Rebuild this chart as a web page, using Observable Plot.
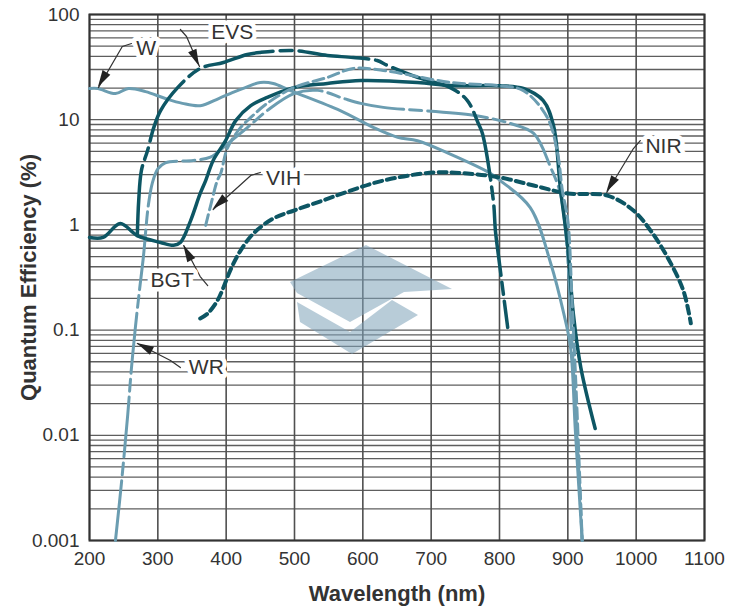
<!DOCTYPE html>
<html><head><meta charset="utf-8">
<script src="https://cdn.jsdelivr.net/npm/d3@7"></script>
<script src="https://cdn.jsdelivr.net/npm/@observablehq/plot@0.6"></script>
<style>
body{margin:0;background:#fff;}
#wrap{position:relative;width:733px;height:612px;}
</style></head><body><div id="wrap"></div>
<script>
// ---- axes ----
const xTicks = [200,300,400,500,600,700,800,900,1000,1100];
const yTicks = [0.001,0.01,0.1,1,10,100];
const yTickLabels = ["0.001","0.01","0.1","1","10","100"];

// ---- series (wavelength nm, quantum efficiency %) ----
const W_nm  = [200,212,238,257,282,311,336,362,389,409,428,450,469,494,567,616,651,680,728,787,801,845,875,894,904,911,921];
const W_qe  = [19.8,19.8,17.7,19.8,18.5,15.9,14.3,13.6,15.9,18.1,20.2,22.6,22.1,18.9,12.2,8.4,6.8,6.3,4.7,3.08,2.64,1.46,0.43,0.144,0.068,0.011,0.001];

const WR_nm = [238,247,256,261,267,273,279,286,292,300,311,352,377,402,431,460,499,534,572,597,630,762,816,850,875,889,898,905,913,921];
const WR_qe = [0.001,0.00365,0.0158,0.0407,0.104,0.235,0.506,1.52,2.51,3.41,3.89,4.1,4.4,5.9,8.4,12.2,17.7,19,15.9,14.3,13.1,11,9.2,7.4,3.5,2.0,0.71,0.1,0.011,0.001];

const BGT_nm = [200,220,245,270,304,323,333,348,362,370,381,399,414,436,460,499,548,597,680,728,801,835,864,879,889,900,908,919,940];
const BGT_qe = [0.76,0.76,1.03,0.79,0.68,0.64,0.68,1.10,1.99,2.64,4.1,6.3,9.8,13.6,16.3,20.2,22.1,23.6,22.6,21.1,21,19.8,15.2,8.8,2.27,0.61,0.144,0.044,0.0116];

const EVS_nm = [270,272,276,285,294,304,329,362,396,431,450,499,548,586,621,636,680,728,753,769,775,791,794,799,812];
const EVS_qe = [0.79,1.7,3.3,5.1,8.4,12.2,20.2,30.7,35,41.7,43.6,45.5,40.8,39,36.5,32.8,25.2,20.2,15.2,9.2,7.4,1.7,0.885,0.48,0.106];

const VIH_nm = [370,377,387,392,402,421,436,460,499,548,586,630,728,801,835,870,885,892,900,906,913,921];
const VIH_qe = [0.99,1.5,2.64,3.08,5.4,8.4,10.5,14.3,20.2,25.2,30.7,29.4,22.6,21,18.9,10.5,4.8,2.12,1.1,0.2,0.02,0.001];

const NIR_nm = [362,373,387,396,406,421,440,469,499,542,582,630,703,753,801,850,900,958,996,1021,1046,1069,1080];
const NIR_qe = [0.129,0.144,0.19,0.254,0.37,0.57,0.83,1.15,1.37,1.71,2.12,2.64,3.15,3.08,2.82,2.37,1.99,1.90,1.37,0.885,0.49,0.238,0.116];

// ---- curve labels (position in data space) and leader lines ----
const labelNames = ["W","EVS","VIH","BGT","WR","NIR"];
const labelNm    = [283,409,484,321,371,1040];
const labelQe    = [47.5,67.4,2.76,0.296,0.044,5.56];
const leaderNm = [[261.5,248,213],[333,342,361],[450,436,381],[373,362,338],[333,318.5,270],[1006,996,957]];
const leaderQe = [[53,49.6,20.2],[72,61.8,32],[3.15,2.95,1.40],[0.265,0.323,0.637],[0.044,0.0514,0.0746],[6.34,5.32,2.03]];

// ---- build tables ----
const rows = (nm, qe) => nm.map((x, i) => ({nm: x, qe: qe[i]}));
const labels = labelNames.map((t, i) => ({t, nm: labelNm[i], qe: labelQe[i]}));
const leaders = labelNames.flatMap((t, i) => leaderNm[i].map((x, j) => ({t, nm: x, qe: leaderQe[i][j]})));
const hGrid = [];
for (let e = -3; e < 2; e++) for (let k = 1; k < 10; k++) hGrid.push(k * Math.pow(10, e));
hGrid.push(100);

const DARK = "#0d5664", LIGHT = "#6b9db1";
const font = "'Liberation Sans', Arial, Helvetica, sans-serif";

const plot = Plot.plot({
  width: 733, height: 612,
  marginLeft: 89, marginRight: 29, marginTop: 14, marginBottom: 72,
  style: {fontFamily: font, fontSize: "19px", color: "#333", background: "white"},
  x: {domain: [200, 1100], ticks: xTicks, tickSize: 0, tickPadding: 11, label: null, tickFormat: d => String(d)},
  y: {type: "log", domain: [0.001, 100], ticks: yTicks, tickSize: 0, tickPadding: 10, label: null,
      tickFormat: d => yTickLabels[yTicks.indexOf(d)]},
  marks: [
    Plot.ruleY(hGrid, {stroke: "#5e5e5e", strokeWidth: 1.3}),
    Plot.ruleX(xTicks, {stroke: "#505050", strokeWidth: 1.6}),
    Plot.frame({stroke: "#333", strokeWidth: 2}),
    Plot.line(rows(W_nm, W_qe), {x: "nm", y: "qe", stroke: LIGHT, strokeWidth: 3, curve: "catmull-rom"}),
    Plot.line(rows(WR_nm, WR_qe), {x: "nm", y: "qe", stroke: LIGHT, strokeWidth: 3, curve: "catmull-rom", strokeDasharray: "60,6,12,6"}),
    Plot.line(rows(BGT_nm, BGT_qe), {x: "nm", y: "qe", stroke: DARK, strokeWidth: 3.5, curve: "catmull-rom"}),
    Plot.line(rows(EVS_nm, EVS_qe), {x: "nm", y: "qe", stroke: DARK, strokeWidth: 3.5, curve: "catmull-rom", strokeDasharray: "70,7,12,7"}),
    Plot.line(rows(NIR_nm, NIR_qe), {x: "nm", y: "qe", stroke: DARK, strokeWidth: 4, curve: "catmull-rom", strokeDasharray: "8,5"}),
    Plot.line(rows(VIH_nm, VIH_qe), {x: "nm", y: "qe", stroke: LIGHT, strokeWidth: 3, curve: "catmull-rom", strokeDasharray: "11,5"}),
    Plot.line(leaders, {x: "nm", y: "qe", z: "t", stroke: "#333", strokeWidth: 1.2}),
    Plot.text(labels, {x: "nm", y: "qe", text: "t", fontSize: 21, fill: "white", stroke: "white", strokeWidth: 9}),
    Plot.text(labels, {x: "nm", y: "qe", text: "t", fontSize: 21, fill: "#333"}),
    Plot.text(["Wavelength (nm)"], {frameAnchor: "bottom", dy: 60, textAnchor: "middle", fontSize: 22, fontWeight: "bold", fill: "#333"}),
    Plot.text(["Quantum Efficiency (%)"], {frameAnchor: "left", dx: -61, rotate: -90, textAnchor: "middle", fontSize: 22, fontWeight: "bold", fill: "#333"})
  ]
});
document.getElementById("wrap").appendChild(plot);

// arrowheads through the plot's scales
const xs = plot.scale("x"), ys = plot.scale("y");
const sx = xs.apply ? (v => xs.apply(v)) : d3.scaleLinear(xs.domain, xs.range);
const sy = ys.apply ? (v => ys.apply(v)) : d3.scaleLog(ys.domain, ys.range);
const svg = d3.select(plot);
labelNames.forEach((t, i) => {
  const n = leaderNm[i].length;
  const tx = sx(leaderNm[i][n-1]), ty = sy(leaderQe[i][n-1]);
  const px = sx(leaderNm[i][n-2]), py = sy(leaderQe[i][n-2]);
  const L = Math.hypot(tx - px, ty - py), ux = (tx - px) / L, uy = (ty - py) / L;
  const len = 17, hw = 4.5;
  const bx = tx - ux * len, by = ty - uy * len;
  svg.append("path")
    .attr("d", `M${tx},${ty}L${bx - uy * hw},${by + ux * hw}L${bx + uy * hw},${by - ux * hw}Z`)
    .attr("fill", "#222");
});
// watermark logo
const logo = svg.append("g").attr("opacity", 0.55).attr("fill", "#7fa3ba");
logo.append("path").attr("d", "M290,282L366,245L452,289L404,292L350,322L297,293Z");
logo.append("path").attr("d", "M297,302L350,332L392,300L418,315L352,354L300,322Z");
</script>
</body></html>
